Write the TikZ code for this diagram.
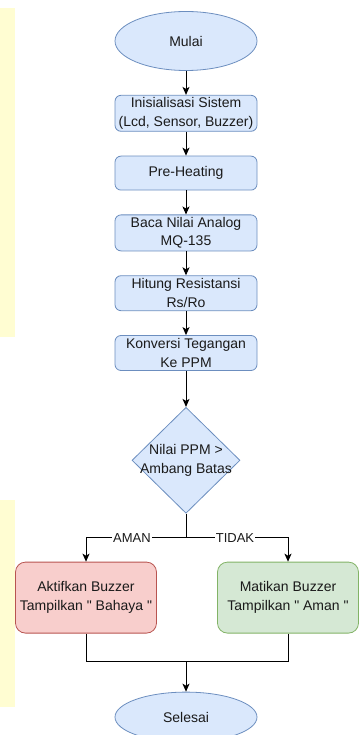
\documentclass[tikz,border=0pt]{standalone}
\usepackage{fontspec}
\setmainfont{Liberation Sans}
\usetikzlibrary{shapes,arrows.meta,positioning,calc}

\definecolor{bluefill}{HTML}{DAE8FC}
\definecolor{blueline}{HTML}{6C8EBF}
\definecolor{redfill}{HTML}{F8CECC}
\definecolor{redline}{HTML}{B85450}
\definecolor{greenfill}{HTML}{D5E8D4}
\definecolor{greenline}{HTML}{82B366}
\definecolor{textgray}{HTML}{1A1A1A}
\definecolor{stripe}{HTML}{FFFDD2}

\begin{document}
\begin{tikzpicture}[x=1pt, y=1pt, node distance=24pt]
  \tikzstyle{terminal}=[ellipse, draw=blueline, fill=bluefill, line width=0.8pt, minimum width=142pt, minimum height=59pt, inner sep=0pt, text=textgray, font=\fontsize{14}{18.5}\selectfont]
  \tikzstyle{process}=[rectangle, rounded corners=6pt, draw=blueline, fill=bluefill, line width=0.8pt, minimum width=142pt, minimum height=35pt, inner sep=0pt, text=textgray, align=center, font=\fontsize{14}{18.5}\selectfont]
  \tikzstyle{decision}=[diamond, draw=blueline, fill=bluefill, line width=0.8pt, minimum width=108pt, minimum height=106pt, inner sep=0pt]
  \tikzstyle{output}=[rectangle, rounded corners=10pt, line width=0.8pt, minimum width=141pt, minimum height=71pt, inner sep=0pt, text=textgray, align=center, font=\fontsize{14}{18.5}\selectfont]
  \tikzstyle{arrow}=[->, line width=1pt, >={Stealth[length=8pt, width=7pt, inset=2pt]}]
  \tikzstyle{lbl}=[fill=white, inner sep=1pt, text=textgray, font=\fontsize{13}{15}\selectfont]

  \useasboundingbox (0,0) rectangle (360,-735);
  \fill[stripe] (0,-8) rectangle (15,-337);
  \fill[stripe] (0,-500) rectangle (15,-707);

  \node[terminal] (mulai) at (186,-41) {Mulai};
  \node[process, minimum height=36pt, below=of mulai] (init) {Inisialisasi Sistem\\(Lcd, Sensor, Buzzer)};
  \node[process, minimum height=34pt, below=of init] (heat) {Pre-Heating};
  \node[process, minimum height=36pt, below=of heat] (baca) {Baca Nilai Analog\\MQ-135};
  \node[process, below=of baca] (hitung) {Hitung Resistansi\\Rs/Ro};
  \node[process, below=of hitung] (konv) {Konversi Tegangan\\Ke PPM};
  \node[decision, below=36pt of konv] (cek) {};
  \node[align=center, text=textgray, font=\fontsize{14}{18.5}\selectfont] (cektext) at (cek) {Nilai PPM >\\Ambang Batas};

  \coordinate[below=24pt of cek.south] (split);
  \node[output, draw=redline, fill=redfill, below=48pt of cek.south, anchor=north, xshift=-100pt] (aktif) {Aktifkan Buzzer\\Tampilkan \textquotedbl{} Bahaya \textquotedbl};
  \node[output, draw=greenline, fill=greenfill, below=48pt of cek.south, anchor=north, xshift=102pt] (mati) {Matikan Buzzer\\Tampilkan \textquotedbl{} Aman \textquotedbl};

  \coordinate (merge) at ($(split)+(0,-124)$);
  \node[terminal, minimum height=50pt, below=30pt of merge] (selesai) {Selesai};

  \draw[arrow] (mulai) -- (init);
  \draw[arrow] (init) -- (heat);
  \draw[arrow] (heat) -- (baca);
  \draw[arrow] (baca) -- (hitung);
  \draw[arrow] (hitung) -- (konv);
  \draw[arrow] (konv) -- (cek);
  \draw[line width=1pt] (cek.south) -- (split);
  \draw[arrow] (split) -| node[lbl, pos=0.27] {AMAN} (aktif.north);
  \draw[arrow] (split) -| node[lbl, pos=0.24] {TIDAK} (mati.north);
  \draw[line width=1pt] (aktif.south) |- (merge);
  \draw[line width=1pt] (mati.south) |- (merge);
  \draw[arrow] (merge) -- (selesai);
\end{tikzpicture}
\end{document}
